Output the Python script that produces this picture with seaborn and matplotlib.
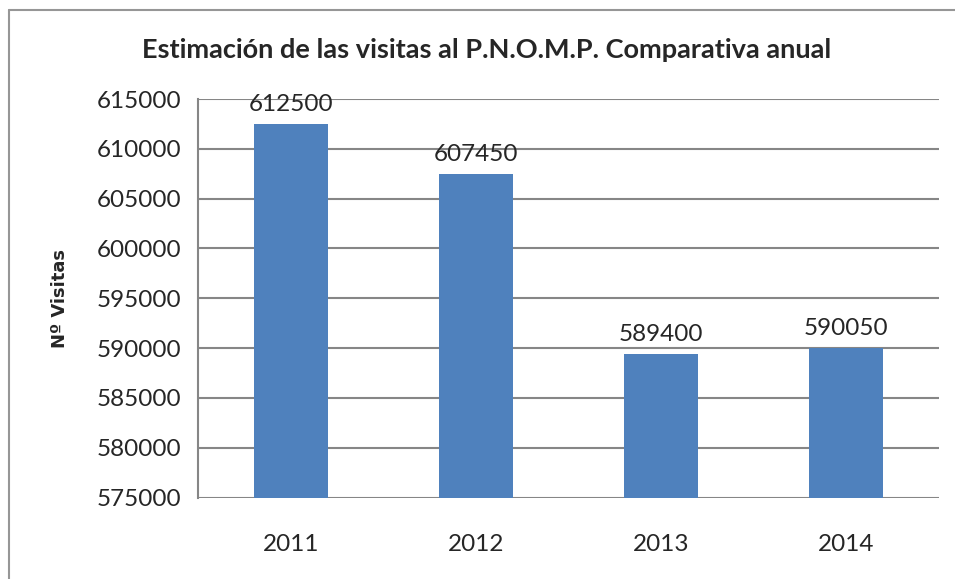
import matplotlib
matplotlib.use("Agg")
import matplotlib.pyplot as plt
import seaborn as sns
import pandas as pd

# datos
years = ["2011", "2012", "2013", "2014"]
visitas = [612500, 607450, 589400, 590050]

df = pd.DataFrame({"year": years, "visitas": visitas})

sns.set_style("white")
plt.rcParams['font.family'] = ['Lato', 'DejaVu Sans']

fig = plt.figure(figsize=(9.55, 5.79), dpi=100)
ax = fig.add_axes([198 / 955, 1 - 497.5 / 579, (939 - 198) / 955, (497.5 - 99) / 579])

sns.barplot(data=df, x="year", y="visitas", color="#4F81BD", saturation=1,
            width=0.4, linewidth=0, ax=ax, zorder=3)

ax.set_ylim(575000, 615000)
ax.set_yticks(range(575000, 615001, 5000))
ax.yaxis.grid(True, color="#868686", linewidth=1.5, zorder=0)
ax.set_axisbelow(True)
for s in ["top", "right", "bottom"]:
    ax.spines[s].set_visible(False)
ax.spines["left"].set_color("#868686")
ax.spines["left"].set_linewidth(1.5)
ax.tick_params(axis="y", length=8, width=1.5, color="#868686", labelsize=17.5, pad=4)
ax.tick_params(axis="x", length=0, labelsize=17.5, pad=26)

for i, v in enumerate(visitas):
    ax.text(i, v + 900, str(v), ha="center", va="bottom", fontsize=17.5)

ax.set_xlabel("")
ax.set_ylabel("Nº Visitas", fontsize=13, fontweight="bold",
              family=["DejaVu Sans"], labelpad=20)
fig.text(487 / 955, 1 - 50 / 579, "Estimación de las visitas al P.N.O.M.P. Comparativa anual",
         ha="center", va="center", fontsize=19.5, fontweight="bold")

# borde del gráfico
fig.add_artist(plt.Line2D([9 / 955, 9 / 955], [0, 1 - 10 / 579], color="#969696",
                          linewidth=1.5, transform=fig.transFigure))
fig.add_artist(plt.Line2D([9 / 955, 1], [1 - 10 / 579, 1 - 10 / 579], color="#969696",
                          linewidth=1.5, transform=fig.transFigure))

fig.savefig("out.png", dpi=100)
